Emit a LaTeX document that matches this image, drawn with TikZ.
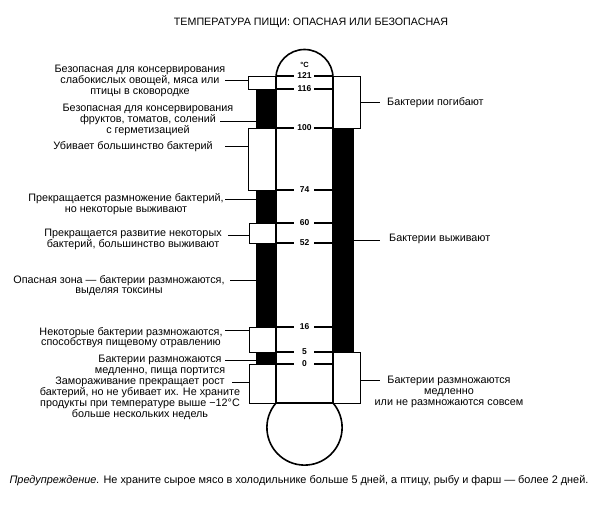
\documentclass[tikz,border=0pt]{standalone}
\usepackage{fontspec}
\setmainfont{Liberation Sans}
\begin{document}
\begin{tikzpicture}[x=1pt,y=1pt,
  lbl/.style={font=\fontsize{10.8}{10.8}\selectfont, align=center, inner sep=0pt, anchor=north},
  rlbl/.style={font=\fontsize{10.8}{10.8}\selectfont, inner sep=0pt, anchor=west},
  num/.style={font=\fontsize{8.5}{9}\selectfont\bfseries, inner sep=0pt},
  wbox/.style={draw, line width=0.6pt, fill=white},
  bbar/.style={fill=black},
  conn/.style={line width=0.6pt},
  tick/.style={line width=1.1pt},
  tube/.style={line width=1.6pt}]
\useasboundingbox (0,0) rectangle (600,511);
% title
\node[font=\fontsize{10.7}{12}\selectfont, inner sep=0pt] (title) at (311,488) {ТЕМПЕРАТУРА ПИЩИ: ОПАСНАЯ ИЛИ БЕЗОПАСНАЯ};
% left column
\draw[wbox] (248.5,435) rectangle (276,422);
\fill[bbar] (256,422) rectangle (276,383);
\draw[wbox] (248.5,383) rectangle (276,321);
\fill[bbar] (256,321) rectangle (276,288);
\draw[wbox] (249,288) rectangle (276,268);
\fill[bbar] (256,268) rectangle (276,184);
\draw[wbox] (249,184) rectangle (276,159);
\fill[bbar] (256,159) rectangle (276,147);
\draw[wbox] (249,147) rectangle (276,108);
% right column
\draw[wbox] (333,435) rectangle (360,383);
\fill[bbar] (333,383) rectangle (354,159);
\draw[wbox] (333,159) rectangle (360.5,108);
% tube
\fill[white] (277,108) rectangle (332,433);
\draw[tube] (276,108) -- (276,433) arc[start angle=180, end angle=0, radius=28.5pt] -- (333,108);
\draw[tube] (276,108) -- (333,108);
\draw[tube] (276,108) arc[start angle=139.3, end angle=400.7, radius=37.6pt];
% ticks and numbers
\node[font=\fontsize{7.5}{8}\selectfont\bfseries, inner sep=0pt] (degc) at (304.5,446) {°C};
\foreach \y/\t in {435/121, 422/116, 383/100, 321/74, 288/60, 268/52, 184/16, 159/5, 147/0}{
  \node[num] (n\t) at (304.5,\y) {\t};
  \draw[tick] (276,\y) -- (294,\y);
  \draw[tick] (314,\y) -- (333,\y);
}
% left labels
\node[lbl] (l1) at (140,446) {Безопасная для консервирования\\слабокислых овощей, мяса или\\птицы в сковородке};
\node[lbl] (l2) at (148,407) {Безопасная для консервирования\\фруктов, томатов, солений\\с герметизацией};
\node[lbl] (l3) at (133,370) {Убивает большинство бактерий};
\node[lbl] (l4) at (126,318) {Прекращается размножение бактерий,\\но некоторые выживают};
\node[lbl] (l5) at (133,282) {Прекращается развитие некоторых\\бактерий, большинство выживают};
\node[lbl] (l6) at (119,236) {Опасная зона — бактерии размножаются,\\выделяя токсины};
\node[lbl] (l7) at (131,184) {Некоторые бактерии размножаются,\\способствуя пищевому отравлению};
\node[lbl] (l8) at (160,156) {Бактерии размножаются\\медленно, пища портится};
\node[lbl] (l9) at (140,134) {Замораживание прекращает рост\\бактерий, но не убивает их. Не храните\\продукты при температуре выше −12°C\\больше нескольких недель};
% left connectors
\coordinate (c1) at (225,431); \draw[conn] (c1) -- (248.5,431);
\coordinate (c2) at (220,390); \draw[conn] (c2) -- (256,390);
\coordinate (c3) at (225,365); \draw[conn] (c3) -- (248.5,365);
\coordinate (c4) at (225,312); \draw[conn] (c4) -- (256,312);
\coordinate (c5) at (228,276); \draw[conn] (c5) -- (249,276);
\coordinate (c6) at (230,231); \draw[conn] (c6) -- (256,231);
\coordinate (c7) at (225,181); \draw[conn] (c7) -- (249,181);
\coordinate (c8) at (225,151); \draw[conn] (c8) -- (256,151);
\coordinate (c9) at (232,129); \draw[conn] (c9) -- (249,129);
% right labels
\node[rlbl] (r1) at (387,408) {Бактерии погибают};
\node[rlbl] (r2) at (389,272) {Бактерии выживают};
\node[lbl] (r3) at (449,135) {Бактерии размножаются\\медленно\\или не размножаются совсем};
\coordinate (d1) at (380,409); \draw[conn] (360,409) -- (d1);
\coordinate (d2) at (380,271); \draw[conn] (354,271) -- (d2);
\coordinate (d3) at (380,131); \draw[conn] (360.5,131) -- (d3);
% note
\node[font=\fontsize{10.9}{12}\selectfont, inner sep=0pt] (note) at (299,30) {\textit{Предупреждение.} Не храните сырое мясо в холодильнике больше 5 дней, а птицу, рыбу и фарш — более 2 дней.};
\end{tikzpicture}
\end{document}
